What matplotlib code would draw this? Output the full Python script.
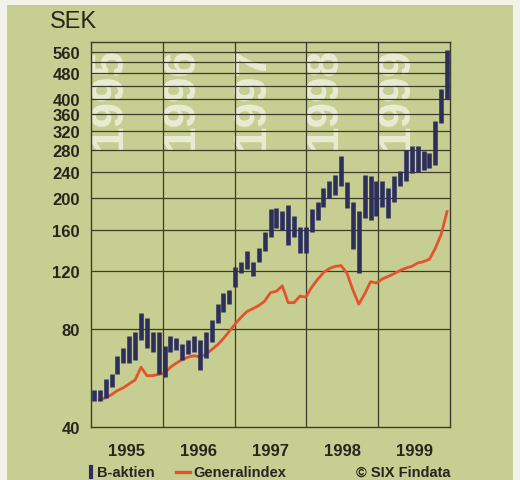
import numpy as np
import matplotlib
matplotlib.use('Agg')
import matplotlib.pyplot as plt
from matplotlib.lines import Line2D
from matplotlib.patches import Rectangle

plt.rcParams['font.family'] = ['Liberation Sans', 'DejaVu Sans']

# monthly high/low for B-aktien (SEK), Jan 1995 .. Jan 2000
b_low = [48, 48, 49, 53, 58, 63, 63, 64, 74, 70, 68, 58,
         57, 68, 69, 64, 67, 68, 60, 65, 73, 83, 90, 95,
         107, 118, 122, 116, 128, 138, 152, 162, 160, 144, 152, 136,
         136, 158, 172, 188, 200, 205, 218, 187, 140, 118, 174, 172,
         176, 188, 174, 194, 218, 226, 238, 240, 244, 248, 252, 338,
         400]
b_high = [52, 52, 56, 58, 66, 70, 76, 78, 89, 86, 78, 78,
          71, 76, 75, 72, 74, 76, 74, 78, 85, 95, 103, 105,
          123, 128, 138, 128, 141, 158, 185, 187, 183, 190, 176, 163,
          163, 185, 194, 215, 226, 236, 268, 224, 194, 183, 236, 233,
          226, 226, 215, 233, 242, 281, 288, 288, 278, 274, 343, 430,
          565]
# Generalindex, rescaled to the share (starts one month later)
gen = [48.5, 49.2, 50.3, 51.8, 52.8, 54.3, 55.8, 61.0, 57.5, 57.5, 58.0,
       58.5, 61.0, 62.8, 64.3, 65.5, 66.1, 65.6, 66.8, 69.0, 71.4, 74.6, 78.5,
       82.6, 86.6, 90.2, 92.0, 94.0, 97.0, 103.0, 104.0, 108.0, 96.0, 96.0,
       100.5, 99.8, 107.0, 113.0, 118.5, 122.0, 123.8, 124.5, 118.0, 105.0,
       95.0, 102.0, 111.2, 110.2, 113.4, 115.4, 117.6, 120.3, 122.4, 123.8,
       126.8, 128.0, 130.2, 140.5, 155.0, 182.0]

years = [1995, 1996, 1997, 1998, 1999]
ytick_vals = [40, 80, 120, 160, 200, 240, 280, 320, 360, 400, 480, 560]
grid_vals = [80, 120, 160, 200, 240, 280, 320, 360, 400, 440, 480, 520, 560]

n = len(b_low)
x = years[0] + (np.arange(n) + 0.5) * len(years) / n
xg = x[n - len(gen):]

green = '#c6cf91'
ink = '#26261e'
gridc = '#3c3c2c'

fig = plt.figure(figsize=(5.2, 4.81), dpi=100, facecolor='#f1f2ea')
bg = Rectangle((7/520, 0), 506/520, 1 - 6/481, transform=fig.transFigure,
               facecolor=green, edgecolor='none', zorder=-10)
fig.add_artist(bg)
ax = fig.add_axes([91/520, 1 - 428.3/481, 359/520, 385.6/481])
ax.set_zorder(5)
ax.set_facecolor(green)

ax.set_yscale('log')
ax.set_ylim(40, 600)
ax.set_xlim(years[0], years[-1] + 1)

# big faded year numbers in the background
for yr in years:
    ax.text(yr + 0.25, 405, str(yr), rotation=90, ha='center', va='center',
            fontsize=33, fontweight='bold', color='white', alpha=0.6, zorder=1)

for g in grid_vals:
    ax.axhline(g, color=gridc, lw=0.9, zorder=2)
for yr in years[1:]:
    ax.axvline(yr, color=gridc, lw=0.9, zorder=2)

ax.vlines(x, b_low, b_high, color='#2d2e5c', lw=3.3, zorder=4)
ax.plot(xg, gen, color='#e2532e', lw=2.0, zorder=3)

ax.set_yticks(ytick_vals)
ax.set_yticklabels([str(v) for v in ytick_vals], fontweight='bold')
ax.yaxis.set_minor_locator(matplotlib.ticker.NullLocator())
ax.set_xticks([yr + 0.5 for yr in years])
ax.set_xticklabels([str(yr) for yr in years], fontweight='bold')
ax.tick_params(axis='y', length=0, pad=8, labelsize=12, labelcolor=ink)
ax.tick_params(axis='x', length=0, pad=11, labelsize=12, labelcolor=ink)
for s in ax.spines.values():
    s.set_color(gridc)
    s.set_linewidth(1.0)

fig.text(50/520, 1 - 22/481, 'SEK', fontsize=17, color=ink, va='center', ha='left')

# legend row
ly = 1 - 473/481
fig.add_artist(Line2D([91/520, 91/520], [ly - 5/481, ly + 5/481], color='#2d2e5c', lw=3,
                      transform=fig.transFigure))
fig.text(97/520, ly, 'B-aktien', fontsize=10.5, fontweight='bold', color=ink,
         va='center', ha='left')
fig.add_artist(Line2D([176/520, 190/520], [ly, ly], color='#e2532e', lw=2.4,
                      transform=fig.transFigure))
fig.text(193/520, ly, 'Generalindex', fontsize=10.5, fontweight='bold', color=ink,
         va='center', ha='left')
fig.text(451/520, ly, '\u00a9 SIX Findata', fontsize=10.5, fontweight='bold', color=ink,
         va='center', ha='right')

fig.savefig('out.png', dpi=100, facecolor=fig.get_facecolor())
